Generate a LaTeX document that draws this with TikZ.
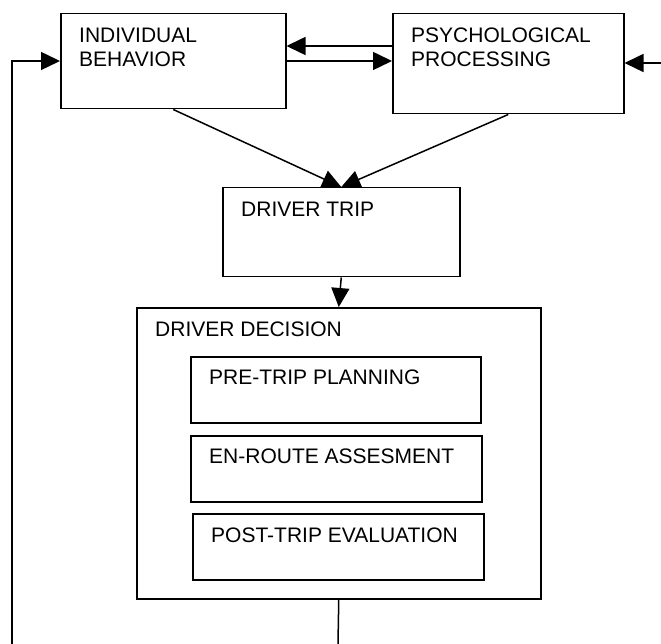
\documentclass[tikz,border=0pt]{standalone}
\usepackage{fontspec}
\setmainfont{Liberation Sans}
\usetikzlibrary{positioning,arrows.meta}

\tikzset{
	box/.style={draw, line width=1.5pt, anchor=north west, inner sep=0pt},
	boxtext/.style={anchor=north west, align=left, inner sep=0pt, xshift=19pt, yshift=-15pt, font=\fontsize{21}{23.5}\selectfont},
	arr/.style={line width=1.5pt, -{Triangle[length=19pt,width=18pt]}},
	ln/.style={line width=1.5pt}
}

\begin{document}
\begin{tikzpicture}[x=1pt,y=-1pt]
		\useasboundingbox (0,0) rectangle (661,644);
		\node[box, minimum width=225pt, minimum height=95pt, label={[boxtext]north west:INDIVIDUAL\\BEHAVIOR}] (indiv) at (60,13) {};
		\node[box, minimum width=231pt, minimum height=100pt, label={[boxtext]north west:PSYCHOLOGICAL\\PROCESSING}] (psych) at (392,13) {};
		\node[box, minimum width=237pt, minimum height=89pt, label={[boxtext]north west:DRIVER TRIP}] (dtrip) at (222,187) {};
		\node[box, minimum width=404pt, minimum height=291pt, label={[boxtext]north west:DRIVER DECISION}] (dec) at (136,307) {};
		\node[box, minimum width=290pt, minimum height=66pt, label={[boxtext, yshift=1pt]north west:PRE-TRIP PLANNING}] (pre) at (190,356) {};
		\node[box, minimum width=291pt, minimum height=66pt, label={[boxtext, yshift=1pt]north west:EN-ROUTE ASSESMENT}] (enroute) at (190,435) {};
		\node[box, minimum width=291pt, minimum height=66pt, label={[boxtext]north west:POST-TRIP EVALUATION}] (post) at (192,513) {};
		\coordinate (rin) at (661,63);
		\coordinate (lbot) at (12,644);
		\coordinate (bot) at (338,644);
		\draw[arr](psych.west |- 0,46)--(indiv.east |- 0,46);
		\draw[arr](indiv.east |- 0,61)--(psych.west |- 0,61);
		\draw[arr](rin)--(psych.east |- rin);
		\draw[arr](lbot)|-(indiv.west |- 0,61);
		\draw[arr](indiv.south)--(dtrip.north);
		\draw[arr](psych.south)--(dtrip.north);
		\draw[arr](dtrip.south)--(dec.north);
		\draw[ln](dec.south)--(bot);
	\end{tikzpicture}
\end{document}
